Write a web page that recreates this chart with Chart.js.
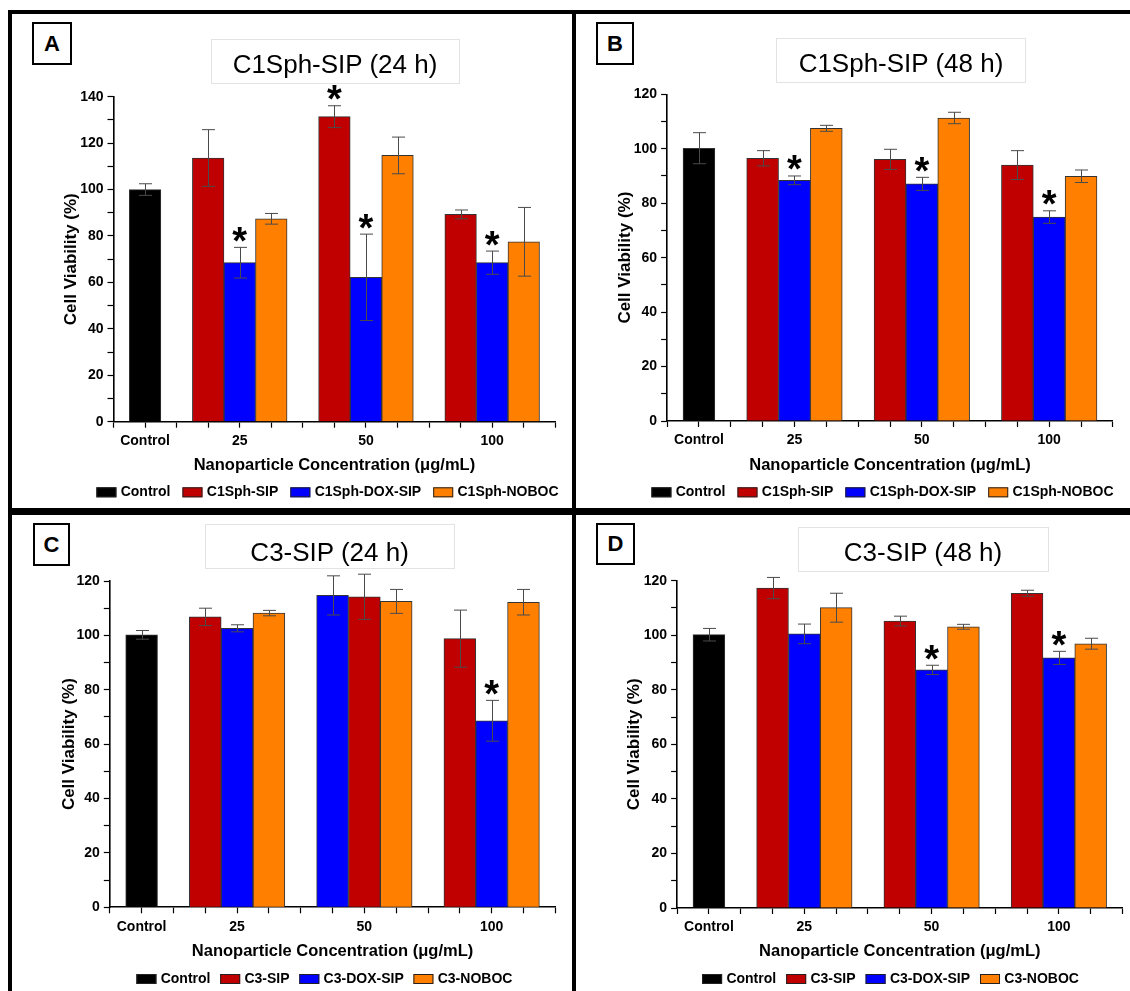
<!DOCTYPE html>
<html>
<head>
<meta charset="utf-8">
<script src="https://cdn.jsdelivr.net/npm/chart.js@4.4.1/dist/chart.umd.min.js"></script>
<style>
html,body{margin:0;padding:0;background:#fff;width:1130px;height:991px;overflow:hidden;position:relative;font-family:'Liberation Sans',Arial,sans-serif}
.line{position:absolute;background:#000;z-index:5}
canvas{position:absolute;z-index:1}
.letter{position:absolute;border:2px solid #000;box-sizing:border-box;font-weight:bold;font-size:22px;display:flex;align-items:center;justify-content:center;background:#fff;z-index:6;color:#000}
.tbox{position:absolute;border:1px solid #e3e3e3;box-sizing:border-box;z-index:2}
.ttext{position:absolute;font-size:26px;line-height:26px;white-space:nowrap;transform:translateX(-50%);z-index:3;color:#000}
</style>
</head>
<body>
<div class="line" style="left:8px;top:10px;width:1122px;height:4px"></div>
<div class="line" style="left:8px;top:10px;width:4px;height:981px"></div>
<div class="line" style="left:572px;top:10px;width:4px;height:981px"></div>
<div class="line" style="left:8px;top:508px;width:1122px;height:7px"></div>

<canvas id="cA"></canvas>
<canvas id="cB"></canvas>
<canvas id="cC"></canvas>
<canvas id="cD"></canvas>

<div class="letter" style="left:32px;top:22px;width:40px;height:43px">A</div>
<div class="letter" style="left:596px;top:22px;width:38px;height:43px">B</div>
<div class="letter" style="left:33px;top:523px;width:37px;height:43px">C</div>
<div class="letter" style="left:596px;top:523px;width:39px;height:42px">D</div>

<div class="tbox" style="left:211px;top:39px;width:249px;height:45px"></div>
<div class="ttext" style="left:335px;top:50.7px">C1Sph-SIP (24 h)</div>
<div class="tbox" style="left:776px;top:38px;width:250px;height:45px"></div>
<div class="ttext" style="left:901px;top:49.7px">C1Sph-SIP (48 h)</div>
<div class="tbox" style="left:205px;top:524px;width:250px;height:45px"></div>
<div class="ttext" style="left:329.6px;top:539px">C3-SIP (24 h)</div>
<div class="tbox" style="left:798px;top:527px;width:251px;height:45px"></div>
<div class="ttext" style="left:923px;top:539px">C3-SIP (48 h)</div>

<script>
// ------------------------- DATA -------------------------
const xTickLabels = ['Control', '25', '50', '100'];
const seriesC1 = ['Control', 'C1Sph-SIP', 'C1Sph-DOX-SIP', 'C1Sph-NOBOC'];
const seriesC3 = ['Control', 'C3-SIP', 'C3-DOX-SIP', 'C3-NOBOC'];
const yTicksA = [0, 20, 40, 60, 80, 100, 120, 140];
const yTicksBCD = [0, 20, 40, 60, 80, 100, 120];

// Panel A : C1Sph-SIP (24 h)   (groups: 25, 50, 100 ug/mL)
const aControl = [100.0];
const aControlErr = [2.5];
const aSIP = [113.6, 131.4, 89.3];
const aSIPErr = [12.2, 4.7, 1.9];
const aDOX = [68.5, 62.2, 68.5];
const aDOXErr = [6.6, 18.6, 5.0];
const aNOBOC = [87.4, 114.7, 77.5];
const aNOBOCErr = [2.3, 7.9, 14.8];
const aSIPSig = [false, true, false];
const aDOXSig = [true, true, true];
const aNOBOCSig = [false, false, false];
const aOrder = [[1, 2, 3], [1, 2, 3], [1, 2, 3]];

// Panel B : C1Sph-SIP (48 h)
const bControl = [100.2];
const bControlErr = [5.7];
const bSIP = [96.5, 96.1, 94.0];
const bSIPErr = [2.8, 3.7, 5.3];
const bDOX = [88.4, 87.1, 74.9];
const bDOXErr = [1.6, 2.4, 2.3];
const bNOBOC = [107.5, 111.3, 89.9];
const bNOBOCErr = [1.1, 2.1, 2.3];
const bSIPSig = [false, false, false];
const bDOXSig = [true, true, true];
const bNOBOCSig = [false, false, false];
const bOrder = [[1, 2, 3], [1, 2, 3], [1, 2, 3]];

// Panel C : C3-SIP (24 h)
const cControl = [100.2];
const cControlErr = [1.6];
const cSIP = [106.8, 114.2, 98.8];
const cSIPErr = [3.2, 8.3, 10.5];
const cDOX = [102.6, 114.7, 68.6];
const cDOXErr = [1.3, 7.2, 7.5];
const cNOBOC = [108.2, 112.5, 112.2];
const cNOBOCErr = [1.0, 4.4, 4.7];
const cSIPSig = [false, false, false];
const cDOXSig = [false, false, true];
const cNOBOCSig = [false, false, false];
const cOrder = [[1, 2, 3], [2, 1, 3], [1, 2, 3]];

// Panel D : C3-SIP (48 h)
const dControl = [100.2];
const dControlErr = [2.3];
const dSIP = [117.3, 105.2, 115.4];
const dSIPErr = [3.9, 1.8, 1.1];
const dDOX = [100.5, 87.3, 91.7];
const dDOXErr = [3.6, 1.7, 2.4];
const dNOBOC = [110.1, 103.1, 96.9];
const dNOBOCErr = [5.3, 0.9, 2.0];
const dSIPSig = [false, false, false];
const dDOXSig = [false, true, true];
const dNOBOCSig = [false, false, false];
const dOrder = [[1, 2, 3], [1, 2, 3], [1, 2, 3]];

// ------------------------- STYLE / LAYOUT -------------------------
const FONT = "'Liberation Sans', Arial, sans-serif";
const COLORS = ['#000000', '#C00000', '#0000FF', '#FF8000'];
const TICK_LEN = 6;
const Y_TITLE_SIZE = 17, X_TITLE_SIZE = 16.5, TICK_SIZE = 14, LEGEND_SIZE = 14;

const geoA = {canvas:{x:12,y:14,w:560,h:494}, plot:{l:113.5,r:555.3,t:96.7,b:421.7}, yTitleX:71.6, xTitleY:465, legend:{x:96.4,y:492.3,gap:12}};
const geoB = {canvas:{x:577,y:14,w:553,h:494}, plot:{l:667.1,r:1112.9,t:94.3,b:421}, yTitleX:625.6, xTitleY:465, legend:{x:651.4,y:492.3,gap:12}};
const geoC = {canvas:{x:12,y:515,w:560,h:476}, plot:{l:109.8,r:555.3,t:581,b:907.3}, yTitleX:69.4, xTitleY:951.7, legend:{x:136.4,y:979,gap:9.7}};
const geoD = {canvas:{x:577,y:515,w:553,h:476}, plot:{l:677.1,r:1122.5,t:580.7,b:908}, yTitleX:634.5, xTitleY:951.7, legend:{x:702.1,y:979,gap:10}};

const CONTROL_SLOT = 1;
const groupCentre = g => 4 + 4 * g;
const X_MAX = 14;

// ------------------------- PLUGINS -------------------------
const errorBarPlugin = {
  id: 'errorBars',
  afterDatasetsDraw(chart) {
    const ctx = chart.ctx;
    const yScale = chart.scales.y;
    ctx.save();
    chart.data.datasets.forEach((ds, di) => {
      const meta = chart.getDatasetMeta(di);
      meta.data.forEach((bar, i) => {
        const v = ds.data[i].y, e = ds.errors[i];
        const yTop = yScale.getPixelForValue(v + e);
        const yBot = yScale.getPixelForValue(v - e);
        const x = Math.round(bar.x) + 0.5;
        const cap = 6.5;
        ctx.strokeStyle = '#4a4a4a';
        ctx.lineWidth = 1;
        ctx.beginPath();
        ctx.moveTo(x, yTop); ctx.lineTo(x, yBot);
        ctx.moveTo(x - cap, yTop); ctx.lineTo(x + cap, yTop);
        ctx.moveTo(x - cap, yBot); ctx.lineTo(x + cap, yBot);
        ctx.stroke();
        if (ds.sig && ds.sig[i]) {
          ctx.font = 'bold 38px ' + FONT;
          ctx.fillStyle = '#000';
          ctx.textAlign = 'center';
          ctx.textBaseline = 'alphabetic';
          const m = ctx.measureText('*');
          const bottomTarget = yTop - 5.5;
          ctx.fillText('*', bar.x, bottomTarget - m.actualBoundingBoxDescent);
        }
      });
    });
    ctx.restore();
  }
};

const legendPlugin = {
  id: 'panelLegend',
  afterDraw(chart, args, o) {
    const ctx = chart.ctx;
    ctx.save();
    ctx.font = 'bold ' + LEGEND_SIZE + 'px ' + FONT;
    ctx.textBaseline = 'middle';
    ctx.textAlign = 'left';
    let x = o.x;
    const bw = 20, bh = 10, tg = 4.3;
    chart.data.datasets.forEach(ds => {
      ctx.fillStyle = ds.backgroundColor;
      ctx.fillRect(x, o.y - bh / 2, bw, bh);
      ctx.strokeStyle = '#222';
      ctx.lineWidth = 1;
      ctx.strokeRect(x + 0.5, o.y - bh / 2 + 0.5, bw - 1, bh - 1);
      ctx.fillStyle = '#000';
      ctx.fillText(ds.label, x + bw + tg, o.y);
      x += bw + tg + ctx.measureText(ds.label).width + o.gap;
    });
    ctx.restore();
  }
};

// ------------------------- BUILD -------------------------
function buildPanel(id, geo, p) {
  const cv = document.getElementById(id);
  const c = geo.canvas;
  cv.width = c.w; cv.height = c.h;
  cv.style.left = c.x + 'px'; cv.style.top = c.y + 'px';
  cv.style.width = c.w + 'px'; cv.style.height = c.h + 'px';

  const yTitleOffset = Y_TITLE_SIZE * 1.2 / 2 + 4;
  const padL = geo.yTitleX - c.x - yTitleOffset;
  const yW = geo.plot.l - c.x - padL;
  const padR = c.x + c.w - geo.plot.r;
  const padT = geo.plot.t - c.y;
  const axisBottom = geo.xTitleY + X_TITLE_SIZE * 1.2 / 2 + 4;
  const xH = axisBottom - geo.plot.b;
  const padB = c.y + c.h - axisBottom;

  const common = {borderColor: '#333', borderWidth: 1, grouped: false, categoryPercentage: 1, barPercentage: 1};
  const datasets = [Object.assign({
    label: p.names[0],
    data: p.control.map(v => ({x: CONTROL_SLOT, y: v})),
    errors: p.controlErr, sig: [false],
    backgroundColor: COLORS[0]
  }, common)];
  for (let s = 1; s <= 3; s++) {
    datasets.push(Object.assign({
      label: p.names[s],
      data: p.values[s - 1].map((v, g) => ({x: groupCentre(g) + p.order[g].indexOf(s) - 1, y: v})),
      errors: p.errors[s - 1], sig: p.sig[s - 1],
      backgroundColor: COLORS[s]
    }, common));
  }

  const labelPos = [CONTROL_SLOT, groupCentre(0), groupCentre(1), groupCentre(2)];
  const yMax = p.yTicks[p.yTicks.length - 1];
  const step = p.yTicks[1] - p.yTicks[0];

  new Chart(cv, {
    type: 'bar',
    data: {datasets},
    options: {
      responsive: false, animation: false, devicePixelRatio: 1,
      layout: {padding: {left: padL, right: padR, top: padT, bottom: padB}},
      plugins: {
        legend: {display: false}, tooltip: {enabled: false}, title: {display: false},
        panelLegend: {x: geo.legend.x - c.x, y: geo.legend.y - c.y, gap: geo.legend.gap}
      },
      scales: {
        x: {
          type: 'linear', min: 0, max: X_MAX, offset: false,
          grid: {display: true, drawOnChartArea: false, drawTicks: true, tickLength: TICK_LEN, tickColor: '#000', tickWidth: 1.2, offset: false},
          border: {display: true, color: '#000', width: 1.6},
          ticks: {
            autoSkip: false, maxRotation: 0, minRotation: 0, padding: 5, color: '#000',
            font: {family: FONT, size: TICK_SIZE, weight: 'bold'},
            callback: v => { const k = labelPos.indexOf(v); return k >= 0 ? xTickLabels[k] : ''; }
          },
          afterBuildTicks: sc => { const t = []; for (let i = 0; i <= X_MAX; i++) t.push({value: i}); sc.ticks = t; },
          afterFit: sc => { sc.height = xH; },
          title: {display: true, text: 'Nanoparticle Concentration (\u03BCg/mL)', color: '#000',
                  font: {family: FONT, size: X_TITLE_SIZE, weight: 'bold'}, padding: {top: 4, bottom: 4}}
        },
        y: {
          type: 'linear', min: 0, max: yMax,
          grid: {display: true, drawOnChartArea: false, drawTicks: true, tickLength: TICK_LEN, tickColor: '#000', tickWidth: 1.2},
          border: {display: true, color: '#000', width: 1.6},
          ticks: {
            autoSkip: false, padding: 4, color: '#000',
            font: {family: FONT, size: TICK_SIZE, weight: 'bold'},
            callback: v => p.yTicks.includes(v) ? String(v) : ''
          },
          afterBuildTicks: sc => {
            const t = [];
            p.yTicks.forEach((v, i) => { t.push({value: v}); if (i < p.yTicks.length - 1) t.push({value: v + step / 2}); });
            sc.ticks = t;
          },
          afterFit: sc => { sc.width = yW; },
          title: {display: true, text: 'Cell Viability (%)', color: '#000',
                  font: {family: FONT, size: Y_TITLE_SIZE, weight: 'bold'}, padding: {top: 4, bottom: 4}}
        }
      }
    },
    plugins: [errorBarPlugin, legendPlugin]
  });
}

buildPanel('cA', geoA, {names: seriesC1, yTicks: yTicksA, control: aControl, controlErr: aControlErr,
  values: [aSIP, aDOX, aNOBOC], errors: [aSIPErr, aDOXErr, aNOBOCErr], sig: [aSIPSig, aDOXSig, aNOBOCSig], order: aOrder});
buildPanel('cB', geoB, {names: seriesC1, yTicks: yTicksBCD, control: bControl, controlErr: bControlErr,
  values: [bSIP, bDOX, bNOBOC], errors: [bSIPErr, bDOXErr, bNOBOCErr], sig: [bSIPSig, bDOXSig, bNOBOCSig], order: bOrder});
buildPanel('cC', geoC, {names: seriesC3, yTicks: yTicksBCD, control: cControl, controlErr: cControlErr,
  values: [cSIP, cDOX, cNOBOC], errors: [cSIPErr, cDOXErr, cNOBOCErr], sig: [cSIPSig, cDOXSig, cNOBOCSig], order: cOrder});
buildPanel('cD', geoD, {names: seriesC3, yTicks: yTicksBCD, control: dControl, controlErr: dControlErr,
  values: [dSIP, dDOX, dNOBOC], errors: [dSIPErr, dDOXErr, dNOBOCErr], sig: [dSIPSig, dDOXSig, dNOBOCSig], order: dOrder});
</script>
</body>
</html>
